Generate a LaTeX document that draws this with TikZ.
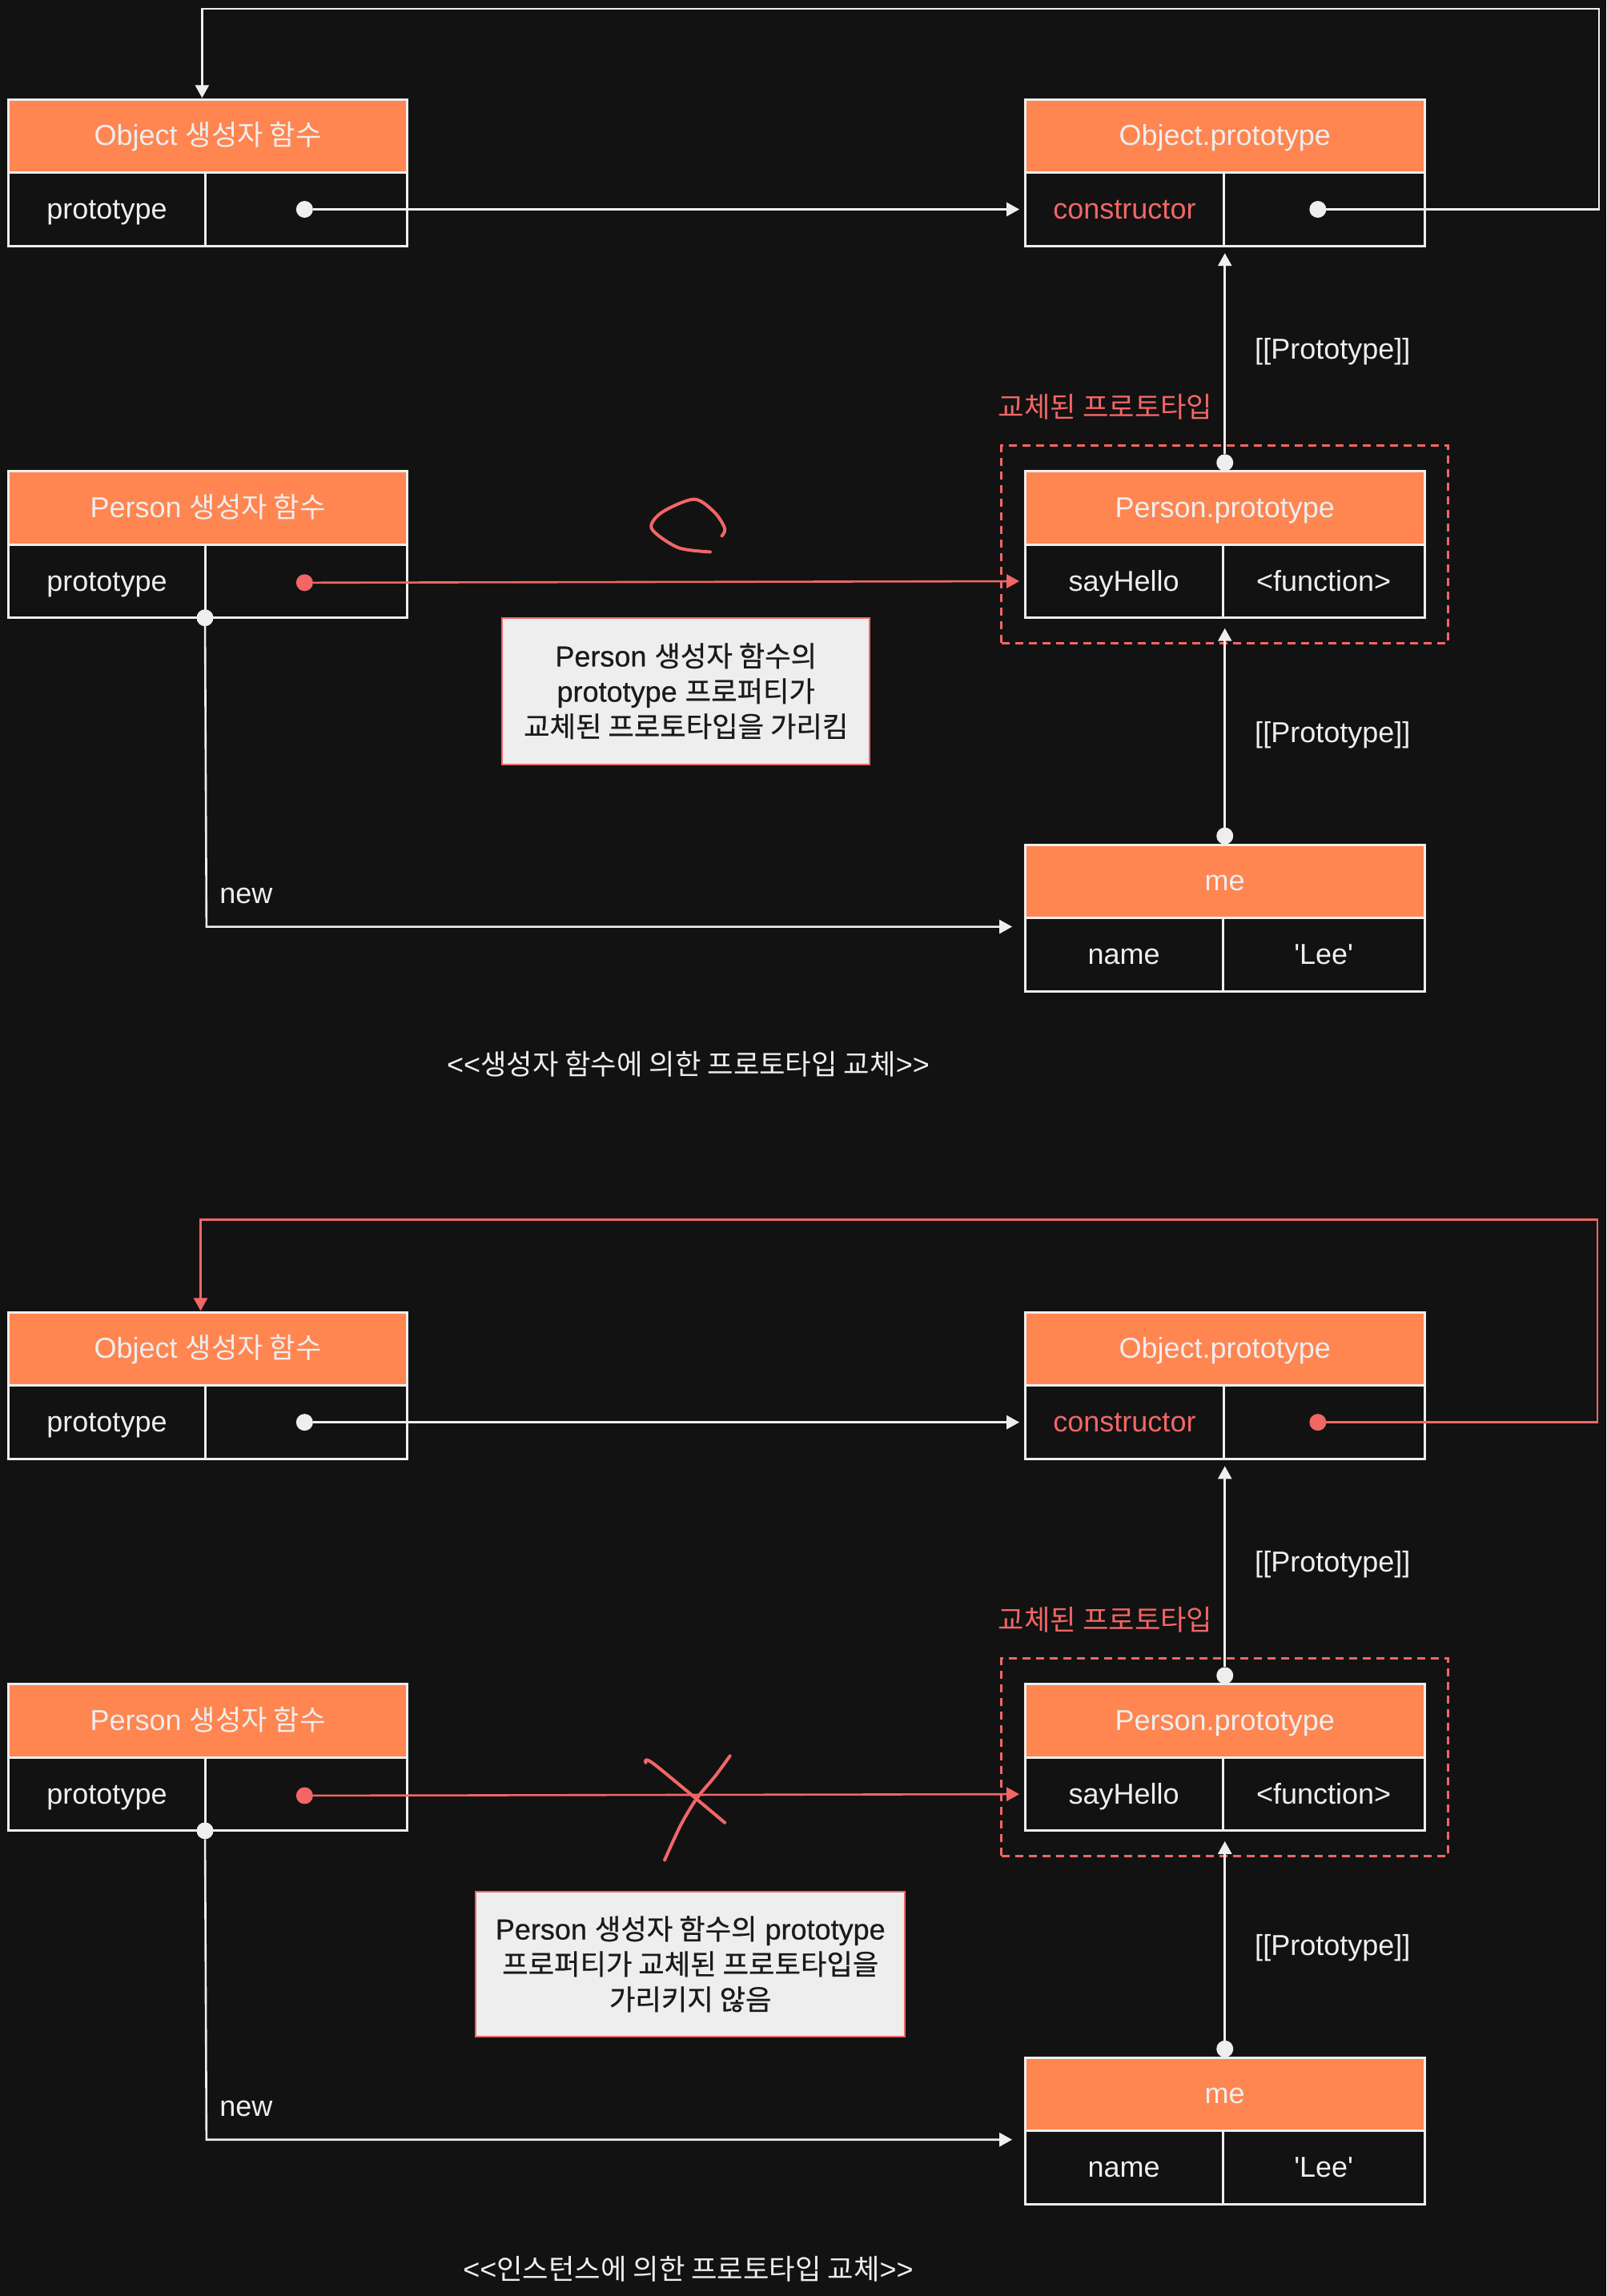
\documentclass[tikz,border=0pt]{standalone}
\usepackage{fontspec}
\setmainfont{Liberation Sans}[Ligatures=TeXOff]
\newfontfamily\kr{Noto Sans CJK KR}[Ligatures=TeXOff,Scale=0.98]
\newfontfamily\lsb{Liberation Sans}[Ligatures=TeXOff,FakeBold=0.6]
\newfontfamily\krb{Noto Sans CJK KR}[Ligatures=TeXOff,Scale=0.98,FakeBold=0.6]
\usetikzlibrary{arrows.meta,fit,calc}
\definecolor{bg}{HTML}{121212}
\definecolor{lc}{HTML}{EEEEEE}
\definecolor{org}{HTML}{FF8551}
\definecolor{rd}{HTML}{F26666}
\definecolor{ink}{HTML}{1A1A1A}
\def\uu{0.91435pt}
\newcommand\objbox[8]{%
  \node[hdr, minimum width=#4*\uu, anchor=north west] (#1-h) at (#2,#3) {#6};
  \node[cell, minimum width=#5*\uu, anchor=north west] (#1-l) at (#1-h.south west) {#7};
  \node[cell, minimum width={(#4-#5)*\uu}, anchor=north west] (#1-r) at (#1-l.north east) {#8};
}
\begin{document}
\begin{tikzpicture}[x=0.91435pt,y=-0.91435pt,
  every node/.style={font=\fontsize{18}{22}\selectfont, text=lc, inner sep=0pt, outer sep=0pt},
  hdr/.style={draw=lc, fill=org, line width=1.5pt, minimum height=50*\uu, text height=15.5pt, text depth=4pt},
  cell/.style={draw=lc, fill=bg, line width=1.5pt, minimum height=50*\uu, text height=16pt, text depth=4pt},
  pdot/.style={circle, fill=#1, minimum size=10.5pt, inner sep=0pt},
  pdot/.default=lc,
  arr/.style={draw=#1, line width=1.3pt, -{Triangle[length=8pt,width=8.5pt]}},
  arr/.default=lc,
  dashbox/.style={draw=rd, line width=1.5pt, dash pattern=on 5pt off 3.5pt, inner xsep=14.6pt, inner ysep=16pt},
  notebox/.style={draw=rd, fill=lc, text=ink, line width=1pt, align=center, font=\fontsize{18}{22}\lsb},
  scrib/.style={draw=rd, line width=2pt, line cap=round, line join=round}
]
\fill[bg] (0,0) rectangle (1096.96,1568.3);

%================ TOP PANEL =================
\objbox{oc}{6}{68}{272}{134}{Object {\kr 생성자 함수}}{prototype}{}
\objbox{op}{700}{68}{273}{136}{Object.prototype}{\textcolor{rd}{constructor}}{}
\objbox{pc}{6}{322}{272}{134}{Person {\kr 생성자 함수}}{prototype}{}
\objbox{pp}{700}{322}{273}{135}{Person.prototype}{sayHello}{<function>}
\objbox{me}{700}{577}{273}{135}{me}{name}{'Lee'}

\node[dashbox, fit=(pp-h)(pp-l)(pp-r)] (ppbox) {};

\node[pdot] (ocd) at (208,143) {};
\node[pdot] (opd) at (900,143) {};
\node[pdot=rd] (pcd) at (208,398) {};
\node[pdot] (pcn) at (pc-l.south east) {};
\node[pdot] (ppd) at ([yshift=5.5pt]pp-h.north) {};
\node[pdot] (med) at ([yshift=5.5pt]me-h.north) {};

\coordinate (t1) at (1092,143);
\coordinate (t2) at (1092,6);
\coordinate (t3) at (138,6);
\coordinate (n1) at (141,633);

\draw[arr, shorten >=3.5pt] (ocd) -- (op-l.west);
\draw[arr, shorten >=1pt] (opd) -- (t1) -- (t2) -- (t3) -- (t3 |- oc-h.north);
\draw[arr, shorten >=4.5pt] (ppd) -- (pp-h.north |- op-l.south);
\draw[arr=rd, shorten >=3.5pt] (pcd) -- (pp-l.west);
\draw[arr, shorten >=8pt] (pcn) -- (n1) -- (n1 -| me-h.west);
\draw[arr, shorten >=6.5pt] (med) -- (me-h.north |- pp-l.south);

\node[text=rd] (rl1) at (755,278) {\kr 교체된 프로토타입};
\node[anchor=west] (pl1) at (857,240) {[[Prototype]]};
\node[anchor=west] (pl2) at (857,502) {[[Prototype]]};
\node[anchor=west] (nw1) at (150,612) {new};
\node[notebox, minimum width=251*\uu, minimum height=100*\uu] (note1) at (468.5,472)
  {Person {\krb 생성자 함수의}\\prototype {\krb 프로퍼티가}\\{\krb 교체된 프로토타입을 가리킴}};
\node (cap1) at (470,727) {<{}<{\kr 생성자 함수에 의한 프로토타입 교체}>{}>};

\draw[scrib] plot[smooth] coordinates {(485,377) (463,374) (445,361) (452,350) (474,341) (488,350) (495,361) (493,366)};

%================ BOTTOM PANEL =================
\begin{scope}[shift={(0,828.5)}]
\objbox{oc2}{6}{68}{272}{134}{Object {\kr 생성자 함수}}{prototype}{}
\objbox{op2}{700}{68}{273}{136}{Object.prototype}{\textcolor{rd}{constructor}}{}
\objbox{pc2}{6}{322}{272}{134}{Person {\kr 생성자 함수}}{prototype}{}
\objbox{pp2}{700}{322}{273}{135}{Person.prototype}{sayHello}{<function>}
\objbox{me2}{700}{577}{273}{135}{me}{name}{'Lee'}

\node[dashbox, fit=(pp2-h)(pp2-l)(pp2-r)] (ppbox2) {};

\node[pdot] (ocd2) at (208,143) {};
\node[pdot=rd] (opd2) at (900,143) {};
\node[pdot=rd] (pcd2) at (208,398) {};
\node[pdot] (pcn2) at (pc2-l.south east) {};
\node[pdot] (ppd2) at ([yshift=5.5pt]pp2-h.north) {};
\node[pdot] (med2) at ([yshift=5.5pt]me2-h.north) {};

\coordinate (u1) at (1091,143);
\coordinate (u2) at (1091,4.5);
\coordinate (u3) at (137,4.5);
\coordinate (m1) at (141,633);

\draw[arr, shorten >=3.5pt] (ocd2) -- (op2-l.west);
\draw[arr=rd, shorten >=1pt] (opd2) -- (u1) -- (u2) -- (u3) -- (u3 |- oc2-h.north);
\draw[arr, shorten >=4.5pt] (ppd2) -- (pp2-h.north |- op2-l.south);
\draw[arr=rd, shorten >=3.5pt] (pcd2) -- (pp2-l.west);
\draw[arr, shorten >=8pt] (pcn2) -- (m1) -- (m1 -| me2-h.west);
\draw[arr, shorten >=6.5pt] (med2) -- (me2-h.north |- pp2-l.south);

\node[text=rd] (rl2) at (755,278) {\kr 교체된 프로토타입};
\node[anchor=west] (pl3) at (857,240) {[[Prototype]]};
\node[anchor=west] (pl4) at (857,502) {[[Prototype]]};
\node[anchor=west] (nw2) at (150,612) {new};
\node[notebox, minimum width=293*\uu, minimum height=99*\uu] (note2) at (471.5,513)
  {Person {\krb 생성자 함수의} prototype\\{\krb 프로퍼티가 교체된 프로토타입을}\\{\krb 가리키지 않음}};
\node (cap2) at (470,721.5) {<{}<{\kr 인스턴스에 의한 프로토타입 교체}>{}>};

\draw[scrib] plot[smooth] coordinates {(441,375.5) (446.6,376.4) (495,416.5)};
\draw[scrib] plot[smooth] coordinates {(498.5,370.9) (488.5,384.6) (475.7,400.1) (464.8,418.3) (453.9,442)};
\end{scope}
\end{tikzpicture}
\end{document}
